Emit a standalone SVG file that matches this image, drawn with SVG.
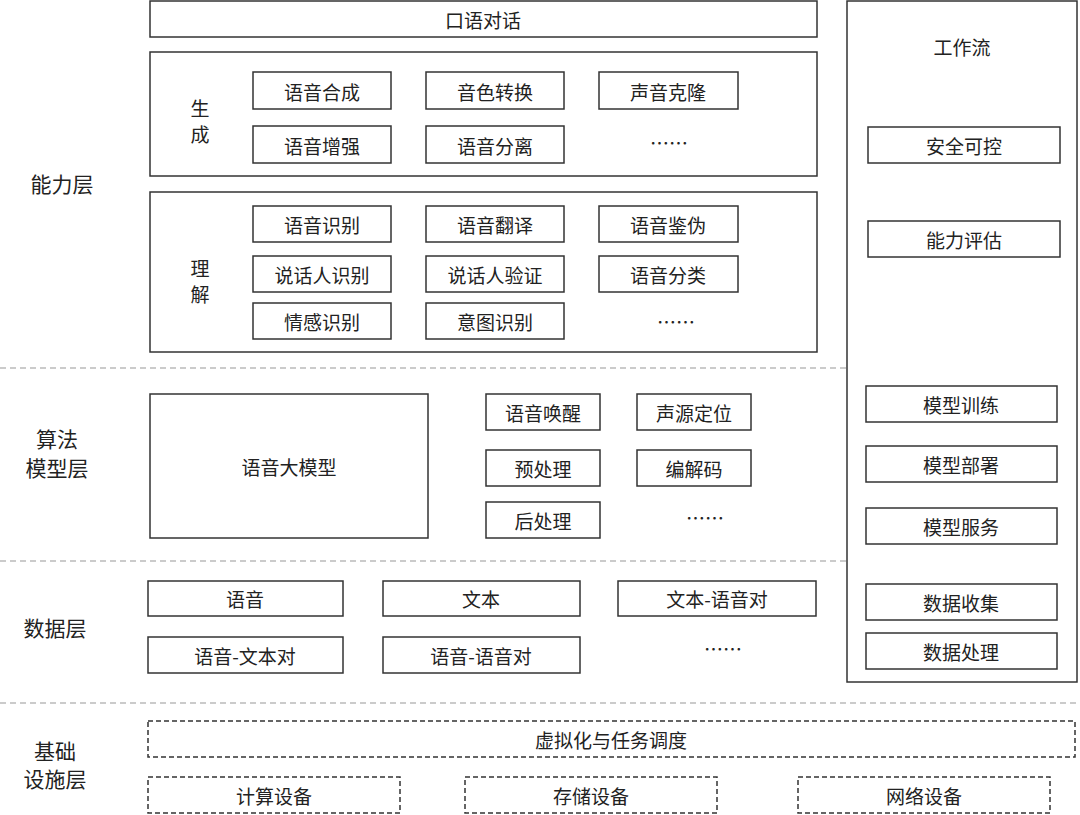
<svg xmlns="http://www.w3.org/2000/svg" width="1080" height="815" viewBox="0 0 1080 815">
<style>
rect{fill:#fff;stroke:#333;stroke-width:1.5}
.d{stroke-dasharray:5 3}
text{font-family:"Noto Sans CJK SC","Liberation Sans",sans-serif;font-size:19px;fill:#222;text-anchor:middle;dominant-baseline:central}
.l{font-size:21px}
line{stroke:#bbb;stroke-width:1.5;stroke-dasharray:6 4}
</style>
<rect width="1080" height="815" style="fill:#fff;stroke:none"/>
<g id="connectors">
<line x1="0" y1="368" x2="1080" y2="368"/>
<line x1="0" y1="561" x2="1080" y2="561"/>
<line x1="0" y1="703" x2="1080" y2="703"/>
</g>
<g id="labels">
<text class="l" x="62" y="183">能力层</text>
<text class="l" x="57" y="438">算法</text><text class="l" x="57" y="467">模型层</text>
<text class="l" x="55" y="627">数据层</text>
<text class="l" x="55" y="750">基础</text><text class="l" x="55" y="778">设施层</text>
</g>
<g id="workflow"><rect x="847" y="1" width="230" height="681"/><text x="962" y="46">工作流</text>
<rect x="868" y="127" width="192" height="36"/><text x="964" y="145">安全可控</text>
<rect x="868" y="221" width="192" height="36"/><text x="964" y="239">能力评估</text>
<rect x="866" y="386" width="191" height="36"/><text x="961" y="404">模型训练</text>
<rect x="866" y="446" width="191" height="36"/><text x="961" y="464">模型部署</text>
<rect x="866" y="508" width="191" height="36"/><text x="961" y="526">模型服务</text>
<rect x="866" y="584" width="191" height="36"/><text x="961" y="602">数据收集</text>
<rect x="866" y="633" width="191" height="36"/><text x="961" y="651">数据处理</text>
</g>
<g id="dialog"><rect x="150" y="1" width="667" height="36"/><text x="483" y="19">口语对话</text></g>
<g id="gen"><rect x="150" y="52" width="667" height="124"/><text x="200" y="107">生</text><text x="200" y="133">成</text>
<rect x="253" y="72" width="138" height="37"/><text x="322" y="91">语音合成</text>
<rect x="426" y="72" width="138" height="37"/><text x="495" y="91">音色转换</text>
<rect x="599" y="72" width="139" height="37"/><text x="668" y="91">声音克隆</text>
<rect x="253" y="126" width="138" height="37"/><text x="322" y="145">语音增强</text>
<rect x="426" y="126" width="138" height="37"/><text x="495" y="145">语音分离</text>
<text x="669" y="142">……</text></g>
<g id="und"><rect x="150" y="192" width="667" height="160"/><text x="200" y="267">理</text><text x="200" y="293">解</text>
<rect x="253" y="206" width="138" height="36"/><text x="322" y="224">语音识别</text>
<rect x="426" y="206" width="138" height="36"/><text x="495" y="224">语音翻译</text>
<rect x="599" y="206" width="139" height="36"/><text x="668" y="224">语音鉴伪</text>
<rect x="253" y="256" width="138" height="36"/><text x="322" y="274">说话人识别</text>
<rect x="426" y="256" width="138" height="36"/><text x="495" y="274">说话人验证</text>
<rect x="599" y="256" width="139" height="36"/><text x="668" y="274">语音分类</text>
<rect x="253" y="303" width="138" height="36"/><text x="322" y="321">情感识别</text>
<rect x="426" y="303" width="138" height="36"/><text x="495" y="321">意图识别</text>
<text x="676" y="321">……</text></g>
<g id="algo"><rect x="150" y="394" width="278" height="144"/><text x="289" y="466">语音大模型</text>
<rect x="486" y="394" width="114" height="36"/><text x="543" y="412">语音唤醒</text>
<rect x="637" y="394" width="114" height="36"/><text x="694" y="412">声源定位</text>
<rect x="486" y="450" width="114" height="36"/><text x="543" y="468">预处理</text>
<rect x="637" y="450" width="114" height="36"/><text x="694" y="468">编解码</text>
<rect x="486" y="502" width="114" height="36"/><text x="543" y="520">后处理</text>
<text x="705" y="517">……</text></g>
<g id="data">
<rect x="148" y="581" width="195" height="35"/><text x="245" y="598">语音</text>
<rect x="383" y="581" width="197" height="35"/><text x="481" y="598">文本</text>
<rect x="618" y="581" width="198" height="35"/><text x="717" y="598">文本-语音对</text>
<rect x="148" y="637" width="195" height="36"/><text x="245" y="655">语音-文本对</text>
<rect x="383" y="637" width="197" height="36"/><text x="481" y="655">语音-语音对</text>
<text x="723" y="648">……</text></g>
<g id="infra">
<rect class="d" x="148" y="721" width="927" height="36"/><text x="611" y="739">虚拟化与任务调度</text>
<rect class="d" x="148" y="777" width="252" height="36"/><text x="274" y="795">计算设备</text>
<rect class="d" x="465" y="777" width="252" height="36"/><text x="591" y="795">存储设备</text>
<rect class="d" x="798" y="777" width="252" height="36"/><text x="924" y="795">网络设备</text>
</g>
</svg>
